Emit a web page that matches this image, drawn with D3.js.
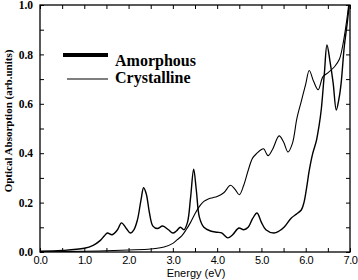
<!DOCTYPE html>
<html><head><meta charset="utf-8">
<script src="https://cdn.jsdelivr.net/npm/d3@7"></script>
<style>body{margin:0;background:#fff}svg{display:block}</style>
</head><body>
<svg id="c" width="358" height="280"></svg>
<script>
const xTicks = [0,1,2,3,4,5,6,7];
const yTicks = [0,0.2,0.4,0.6,0.8,1.0];
const seriesNames = ["Amorphous","Crystalline"];
const amorphousE = [0,0.5,1.0,1.2,1.35,1.45,1.52,1.63,1.75,1.84,1.95,2.04,2.12,2.2,2.28,2.34,2.4,2.47,2.55,2.65,2.77,2.9,3.0,3.08,3.17,3.25,3.33,3.4,3.47,3.53,3.6,3.7,3.85,4.0,4.1,4.24,4.35,4.49,4.6,4.7,4.8,4.9,5.0,5.1,5.28,5.4,5.51,5.67,5.8,5.9,5.96,6.02,6.08,6.16,6.24,6.3,6.35,6.42,6.48,6.55,6.62,6.69,6.75,6.8,6.87,6.94,6.98];
const amorphousA = [0.003,0.006,0.015,0.027,0.045,0.065,0.077,0.07,0.09,0.118,0.095,0.077,0.09,0.13,0.21,0.26,0.235,0.16,0.105,0.095,0.105,0.09,0.077,0.085,0.10,0.09,0.12,0.22,0.335,0.25,0.14,0.10,0.085,0.08,0.077,0.057,0.07,0.097,0.09,0.10,0.135,0.158,0.12,0.09,0.077,0.085,0.10,0.137,0.155,0.17,0.2,0.26,0.33,0.40,0.45,0.51,0.575,0.72,0.838,0.77,0.684,0.575,0.62,0.684,0.83,0.93,1.0];
const crystallineE = [0,1.0,1.5,2.0,2.5,2.8,3.0,3.1,3.2,3.3,3.4,3.5,3.6,3.7,3.8,3.9,4.0,4.15,4.3,4.4,4.5,4.6,4.7,4.8,4.9,5.0,5.05,5.15,5.25,5.4,5.5,5.6,5.7,5.8,5.9,6.0,6.08,6.18,6.28,6.39,6.5,6.65,6.76,6.85,6.92,6.97];
const crystallineA = [0,0.003,0.005,0.008,0.012,0.02,0.035,0.05,0.065,0.09,0.12,0.155,0.185,0.205,0.215,0.22,0.225,0.24,0.27,0.255,0.232,0.27,0.33,0.38,0.40,0.415,0.418,0.39,0.415,0.47,0.445,0.405,0.44,0.54,0.61,0.68,0.735,0.69,0.657,0.71,0.725,0.75,0.78,0.85,0.93,1.0];

const svg = d3.select("#c");
const L=40,R=350,T=5,B=252;
const x = d3.scaleLinear().domain([0,7]).range([L,R]);
const y = d3.scaleLinear().domain([0,1]).range([B,T]);

const g = svg.append("g");
g.append("rect").attr("x",L).attr("y",T).attr("width",R-L).attr("height",B-T)
 .attr("fill","none").attr("stroke","#000").attr("stroke-width",1.3);

const xMinor = d3.range(0,7.01,0.5);
g.append("g").attr("transform",`translate(0,${B})`).call(d3.axisBottom(x).tickValues(xMinor).tickSize(-4).tickFormat(""))
 .call(a=>a.select(".domain").remove());
g.append("g").attr("transform",`translate(0,${T})`).call(d3.axisTop(x).tickValues(xMinor).tickSize(-4).tickFormat(""))
 .call(a=>a.select(".domain").remove());
g.append("g").attr("transform",`translate(0,${B})`)
 .call(d3.axisBottom(x).tickValues(xTicks).tickSize(0).tickPadding(4).tickFormat(d3.format(".1f")))
 .call(a=>a.select(".domain").remove())
 .selectAll("text").attr("font-family","Liberation Sans, Arial, sans-serif").attr("font-size",11).attr("fill","#000").attr("letter-spacing",-0.5);

const yMinor = d3.range(0,1.001,0.1);
g.append("g").attr("transform",`translate(${L},0)`).call(d3.axisLeft(y).tickValues(yMinor).tickSize(-4).tickFormat("")).call(a=>a.select(".domain").remove());
g.append("g").attr("transform",`translate(${R},0)`).call(d3.axisRight(y).tickValues(yMinor).tickSize(-4).tickFormat("")).call(a=>a.select(".domain").remove());
g.append("g").attr("transform",`translate(${L},0)`)
 .call(d3.axisLeft(y).tickValues(yTicks).tickSize(0).tickPadding(7).tickFormat(d3.format(".1f")))
 .call(a=>a.select(".domain").remove())
 .selectAll("text").attr("font-family","Liberation Serif, Times New Roman, serif").attr("font-weight","bold").attr("font-size",11.5).attr("fill","#000");
g.selectAll(".tick line").attr("stroke","#000").attr("stroke-width",1);

const line = d3.line().x(d=>x(d[0])).y(d=>y(d[1])).curve(d3.curveCatmullRom.alpha(0.5));
svg.append("clipPath").attr("id","cp").append("rect").attr("x",L).attr("y",T-1).attr("width",R-L).attr("height",B-T+1);
const aData = amorphousE.map((e,i)=>[e,amorphousA[i]]);
const cData = crystallineE.map((e,i)=>[e,crystallineA[i]]);
svg.append("path").datum(cData).attr("d",line).attr("fill","none").attr("stroke","#000").attr("stroke-width",1.1).attr("clip-path","url(#cp)");
svg.append("path").datum(aData).attr("d",line).attr("fill","none").attr("stroke","#000").attr("stroke-width",1.4).attr("clip-path","url(#cp)");

const leg = svg.append("g");
leg.append("line").attr("x1",63).attr("x2",108).attr("y1",55).attr("y2",55).attr("stroke","#000").attr("stroke-width",4);
leg.append("line").attr("x1",67).attr("x2",108).attr("y1",79).attr("y2",79).attr("stroke","#000").attr("stroke-width",1.2);
leg.append("text").attr("x",115).attr("y",66).text(seriesNames[0])
 .attr("font-family","Liberation Serif, Times New Roman, serif").attr("font-weight","bold").attr("font-size",16);
leg.append("text").attr("x",115).attr("y",83).text(seriesNames[1])
 .attr("font-family","Liberation Serif, Times New Roman, serif").attr("font-weight","bold").attr("font-size",16);

svg.append("text").attr("x",196).attr("y",277).attr("text-anchor","middle").text("Energy (eV)")
 .attr("font-family","Liberation Sans, Arial, sans-serif").attr("font-size",11);
svg.append("text").attr("transform","translate(12,121) rotate(-90)").attr("text-anchor","middle")
 .text("Optical Absorption (arb.units)")
 .attr("font-family","Liberation Serif, Times New Roman, serif").attr("font-weight","bold").attr("font-size",11);
</script>
</body></html>
